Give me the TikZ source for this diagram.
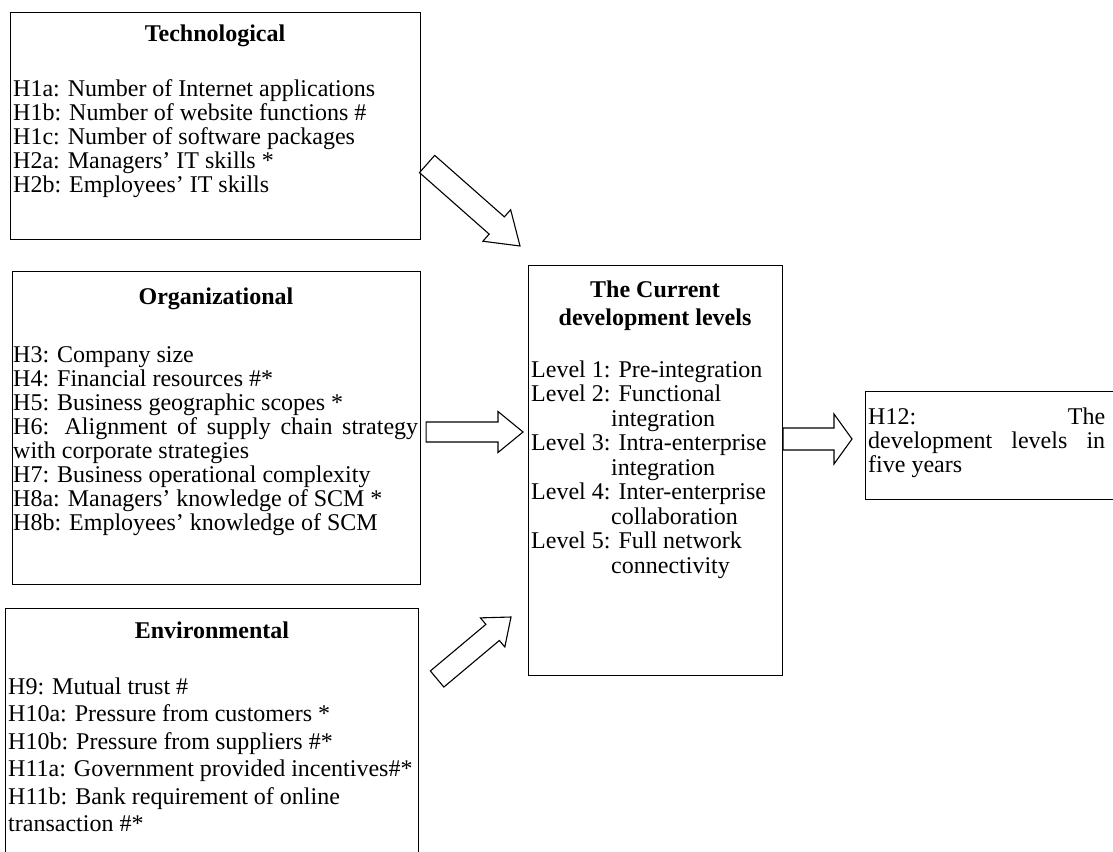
\documentclass[tikz,border=0pt]{standalone}
\usepackage{fontspec}
\setmainfont{Liberation Serif}
\usetikzlibrary{calc}

% outlined block arrow: tail, tip, shaft half width, head half width, head length, name
\newcommand{\fatarrow}[6]{%
  \coordinate (#6-b) at ($(#2)!#5!(#1)$);
  \draw[fat] ($(#1)!#3!90:(#2)$) -- ($(#6-b)!#3!90:(#2)$) -- ($(#6-b)!#4!90:(#2)$) -- (#2)
    -- ($(#6-b)!#4!-90:(#2)$) -- ($(#6-b)!#3!-90:(#2)$) -- ($(#1)!#3!-90:(#2)$) -- cycle;
}

\begin{document}
\begin{tikzpicture}[x=1pt,y=-1pt,
  box/.style={draw=black, line width=1.1pt, anchor=north west, inner sep=0pt},
  ln/.style={anchor=base west, inner sep=0pt, font=\fontsize{24}{28}\selectfont},
  ttl/.style={anchor=base, inner sep=0pt, font=\fontsize{24}{28}\selectfont\bfseries},
  fat/.style={draw=black, line width=1.1pt, fill=white, line join=miter}]
\useasboundingbox (0,0) rectangle (1113,851);
\clip (0,0) rectangle (1113,851);

% ---- boxes ----
\node[box, minimum width=410pt, minimum height=227pt] (tech) at (10,12) {};
\node[box, minimum width=408pt, minimum height=313pt] (org) at (12,271) {};
\node[box, minimum width=413pt, minimum height=300pt] (env) at (5,608) {};
\node[box, minimum width=254pt, minimum height=410pt] (cur) at (528,265) {};
\node[box, minimum width=300pt, minimum height=108pt] (h12) at (865,391) {};

% ---- technological factors ----
\node[ttl] (techT) at (215,42) {Technological};
\foreach \t [count=\i] in {
  H1a: Number of Internet applications,
  H1b: Number of website functions \#,
  H1c: Number of software packages,
  H2a: Managers' IT skills *,
  H2b: Employees' IT skills}
  \node[ln] (tech\i) at (13,{96+24*(\i-1)}) {\t};

% ---- organizational factors ----
\node[ttl] (orgT) at (216,304) {Organizational};
\foreach \t [count=\i] in {
  H3: Company size,
  H4: Financial resources \#*,
  H5: Business geographic scopes *,
  {\makebox[405pt][s]{H6: Alignment of supply chain strategy}},
  with corporate strategies,
  H7: Business operational complexity,
  H8a: Managers' knowledge of SCM *,
  H8b: Employees' knowledge of SCM}
  \node[ln] (org\i) at (13,{362+24*(\i-1)}) {\t};

% ---- environmental factors ----
\node[ttl] (envT) at (212,638) {Environmental};
\foreach \t [count=\i] in {
  H9: Mutual trust \#,
  H10a: Pressure from customers *,
  H10b: Pressure from suppliers \#*,
  H11a: Government provided incentives\#*,
  H11b: Bank requirement of online,
  transaction \#*}
  \node[ln] (env\i) at (8,{694+27.5*(\i-1)}) {\t};

% ---- current development levels ----
\node[ttl] (curT1) at (655,297) {The Current};
\node[ttl] (curT2) at (655,325) {development levels};
\foreach \t/\x [count=\i] in {
  Level 1: Pre-integration/531,
  Level 2: Functional/531,
  integration/611,
  Level 3: Intra-enterprise/531,
  integration/611,
  Level 4: Inter-enterprise/531,
  collaboration/611,
  Level 5: Full network/531,
  connectivity/611}
  \node[ln] (cur\i) at (\x,{377+24.5*(\i-1)}) {\t};

% ---- future levels ----
\node[ln] (h12a) at (868,424) {\makebox[237pt][s]{H12: The}};
\node[ln] (h12b) at (868,448) {\makebox[237pt][s]{development levels in}};
\node[ln] (h12c) at (868,472) {five years};

% ---- block arrows ----
\coordinate (a1t) at ($(tech.north east)+(6,152)$);
\coordinate (a1h) at ($(cur.north west)+(-8,-19)$);
\coordinate (a2t) at ($(org.north east)+(5,161)$);
\coordinate (a2h) at ($(cur.north west)+(-5,167)$);
\coordinate (a3t) at ($(env.north east)+(18,71)$);
\coordinate (a3h) at ($(cur.north west)+(-17,352)$);
\coordinate (a4t) at ($(cur.north east)+(0,174)$);
\coordinate (a4h) at ($(h12.north west)+(-13,48)$);

\fatarrow{a1t}{a1h}{11.5pt}{21pt}{31pt}{a1}
\fatarrow{a2t}{a2h}{10pt}{20.5pt}{25pt}{a2}
\fatarrow{a3t}{a3h}{10.5pt}{19pt}{24pt}{a3}
\fatarrow{a4t}{a4h}{11pt}{25pt}{18pt}{a4}
\end{tikzpicture}
\end{document}
